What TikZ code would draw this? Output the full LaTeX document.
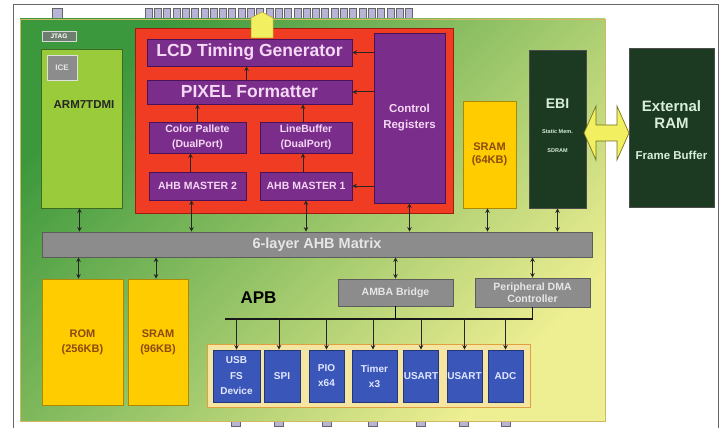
\documentclass[tikz,border=0pt]{standalone}
\usepackage{fontspec}
\setmainfont{Liberation Sans}
\usetikzlibrary{arrows.meta}
\definecolor{purpF}{HTML}{7B2D8C}
\definecolor{purpD}{HTML}{4A1258}
\definecolor{purpT}{HTML}{F4D8F4}
\definecolor{redF}{HTML}{F03C22}
\definecolor{redD}{HTML}{A01C10}
\definecolor{yelF}{HTML}{FFCC00}
\definecolor{yelD}{HTML}{B08800}
\definecolor{yelT}{HTML}{8A4A10}
\definecolor{armF}{HTML}{9ACB3A}
\definecolor{armD}{HTML}{3D6B22}
\definecolor{grayF}{HTML}{8C8C8C}
\definecolor{grayD}{HTML}{5C5C5C}
\definecolor{grayT}{HTML}{E6E6E6}
\definecolor{dgF}{HTML}{1C3A22}
\definecolor{dgT}{HTML}{D8EED8}
\definecolor{bluF}{HTML}{3A56B8}
\definecolor{bluD}{HTML}{24357A}
\definecolor{bluT}{HTML}{E2E8FF}
\definecolor{contF}{HTML}{F4E6A0}
\definecolor{contD}{HTML}{E0A040}
\definecolor{pinF}{HTML}{B8B4D8}
\definecolor{bodyA}{HTML}{3C983C}
\definecolor{bodyB}{HTML}{A8CA4A}
\definecolor{bodyC}{HTML}{EEEE92}
\definecolor{arrY}{HTML}{F2F060}
\definecolor{arrD}{HTML}{707020}
\definecolor{jtagF}{HTML}{6E7E6E}
\newcommand\fsz[2]{\fontsize{#1}{#2}\selectfont}
\tikzset{
  blk/.style={draw, line width=0.9pt, inner sep=0pt, align=center, font=\bfseries},
  purpbox/.style={blk, fill=purpF, draw=purpD, text=purpT},
  yelbox/.style={blk, fill=yelF, draw=yelD, text=yelT},
  graybox/.style={blk, fill=grayF, draw=grayD, text=grayT},
  dgbox/.style={blk, fill=dgF, draw=black!70, text=dgT},
  blubox/.style={blk, fill=bluF, draw=bluD, text=bluT},
  txt/.style={inner sep=0pt, align=center, font=\bfseries},
  arr/.style={-{Stealth[length=4.5pt,width=4.5pt]}, line width=1pt, draw=black!85},
  darr/.style={{Stealth[length=4.5pt,width=4.5pt]}-{Stealth[length=4.5pt,width=4.5pt]}, line width=1pt, draw=black!85},
  busline/.style={line width=1.8pt, draw=black!90},
  pin/.style={fill=pinF, draw=black!60, line width=0.5pt},
}
\begin{document}
\begin{tikzpicture}[x=1pt,y=-1pt]
\useasboundingbox (0,0) rectangle (724,428);
\fill[white] (0,0) rectangle (724,428);
\draw[black!60, line width=0.8pt] (13,428) -- (13,4) -- (718,4) -- (718,428);
% top pins
\draw[pin] (52,8) rectangle (62,19);
\foreach \i in {0,...,28} { \draw[pin] ({145+9.3*\i},8) rectangle ++(7,11); }
% bottom pins
\foreach \x in {236,279,327,373,421,464,506} { \draw[pin] ({\x-4.5},415) rectangle ++(9,11); }
% chip body
\shade[top color=bodyA, middle color=bodyB, bottom color=bodyC, shading angle=45] (20,19) rectangle (605,421);
\draw[yelD!60, line width=0.6pt] (20,19) rectangle (605,421);
% JTAG, ARM
\node[blk, fill=jtagF, draw=white!70!gray, text=white, minimum width=34pt, minimum height=10pt, font=\bfseries\fsz{6.5}{7}] (jtag) at (59,36) {JTAG};
\node[blk, fill=armF, draw=armD, minimum width=81pt, minimum height=159pt] (arm) at (81.5,128.5) {};
\node[txt, text=black!85, font=\bfseries\fsz{11.5}{12}] (armt) at (84,105) {ARM7TDMI};
\node[blk, fill=grayF, draw=white!75!gray, text=grayT, minimum width=30pt, minimum height=25pt, font=\bfseries\fsz{8}{9}] (ice) at (62,67.5) {ICE};
% LCD controller block
\node[blk, fill=redF, draw=redD, minimum width=318pt, minimum height=185pt] (lcd) at (294,120.5) {};
\fill[arrY, draw=yelD!80, line width=0.5pt] (251,38) -- (251,18) -- (262,12) -- (273,18) -- (273,38) -- cycle;
\node[purpbox, minimum width=205pt, minimum height=27pt, font=\bfseries\fsz{17.5}{18}] (lcdt) at (249.5,52.5) {LCD Timing Generator};
\node[purpbox, minimum width=205pt, minimum height=24pt, font=\bfseries\fsz{17.5}{18}] (pix) at (249.5,92) {PIXEL Formatter};
\node[purpbox, minimum width=97pt, minimum height=31pt, font=\bfseries\fsz{10.5}{14.5}] (cp) at (197.5,137.5) {Color Pallete\\(DualPort)};
\node[purpbox, minimum width=92pt, minimum height=31pt, font=\bfseries\fsz{10.5}{14.5}] (lb) at (306,137.5) {LineBuffer\\(DualPort)};
\node[purpbox, minimum width=97pt, minimum height=28pt, font=\bfseries\fsz{10.5}{12}] (m2) at (197.5,186) {AHB MASTER 2};
\node[purpbox, minimum width=92pt, minimum height=28pt, font=\bfseries\fsz{10.5}{12}] (m1) at (306,186) {AHB MASTER 1};
\node[purpbox, minimum width=71pt, minimum height=170pt, font=\bfseries\fsz{11.5}{16}] (ctrl) at (409.5,118) {Control\\Registers};
% memories and EBI
\node[yelbox, minimum width=53pt, minimum height=107pt, font=\bfseries\fsz{11}{13}] (sram64) at (489.5,154.5) {SRAM\\(64KB)};
\node[dgbox, minimum width=57pt, minimum height=158pt] (ebi) at (557.5,129) {};
\node[txt, text=dgT, font=\bfseries\fsz{14}{15}] (ebit) at (557.5,104) {EBI};
\node[txt, text=dgT, font=\bfseries\fsz{5.5}{6}] (ebis) at (557.5,132) {Static Mem.};
\node[txt, text=dgT, font=\bfseries\fsz{5.5}{6}] (ebid) at (557.5,151) {SDRAM};
\node[dgbox, minimum width=85pt, minimum height=159pt] (ext) at (671.5,127.5) {};
\node[txt, text=dgT, font=\bfseries\fsz{15}{17}] (extt) at (671.5,114.5) {External\\RAM};
\node[txt, text=dgT, font=\bfseries\fsz{11.5}{12}] (extf) at (671.5,155) {Frame Buffer};
\fill[arrY, draw=arrD, line width=0.7pt] (584,133) -- (596,106) -- (596,125) -- (617,125) -- (617,106) -- (629,133) -- (617,160) -- (617,141) -- (596,141) -- (596,160) -- cycle;
% AHB matrix
\node[graybox, minimum width=550pt, minimum height=25pt, font=\bfseries\fsz{14.5}{15}] (mtx) at (317,244.5) {6-layer AHB Matrix};
\node[yelbox, minimum width=81pt, minimum height=126pt, font=\bfseries\fsz{11}{15}] (rom) at (82.5,342) {ROM\\(256KB)};
\node[yelbox, minimum width=60pt, minimum height=126pt, font=\bfseries\fsz{11}{15}] (sram96) at (158,342) {SRAM\\(96KB)};
\node[txt, text=black, font=\bfseries\fsz{17}{18}] (apb) at (258.5,298) {APB};
\node[graybox, minimum width=115pt, minimum height=27pt, font=\bfseries\fsz{10.5}{12}] (amba) at (395.5,292.5) {AMBA Bridge};
\node[graybox, minimum width=115pt, minimum height=29pt, font=\bfseries\fsz{10.5}{11.5}] (dma) at (532.5,292.5) {Peripheral DMA\\Controller};
% peripherals
\node[blk, fill=contF, draw=contD, minimum width=323pt, minimum height=63pt] (cont) at (368.5,375.5) {};
\node[blubox, minimum width=47pt, minimum height=52pt, font=\bfseries\fsz{10}{15.5}] (usb) at (236.5,376) {USB\\FS\\Device};
\node[blubox, minimum width=36pt, minimum height=52pt, font=\bfseries\fsz{10}{15}] (spi) at (282,376) {SPI};
\node[blubox, minimum width=35pt, minimum height=52pt, font=\bfseries\fsz{10}{15}] (pio) at (326.5,376) {PIO\\x64};
\node[blubox, minimum width=45pt, minimum height=52pt, font=\bfseries\fsz{10}{15}] (timer) at (374.5,376) {Timer\\x3};
\node[blubox, minimum width=34pt, minimum height=52pt, font=\bfseries\fsz{10}{15}] (us1) at (421,376) {USART};
\node[blubox, minimum width=35pt, minimum height=52pt, font=\bfseries\fsz{10}{15}] (us2) at (464.5,376) {USART};
\node[blubox, minimum width=35pt, minimum height=52pt, font=\bfseries\fsz{10}{15}] (adc) at (505.5,376) {ADC};
% connectors inside LCD block
\draw[arr] (cp.north) -- (cp.north |- pix.south);
\draw[arr] ([xshift=-3pt]lb.north) -- ([xshift=-3pt]lb.north |- pix.south);
\draw[arr] ([xshift=-3pt]pix.north) -- ([xshift=-3pt]pix.north |- lcdt.south);
\draw[arr] ([xshift=-7pt]m2.north) -- ([xshift=-7pt]m2.north |- cp.south);
\draw[arr] ([xshift=-3pt]m1.north) -- ([xshift=-3pt]m1.north |- lb.south);
\draw[arr] (ctrl.west |- lcdt.east) -- (lcdt.east);
\draw[arr] (ctrl.west |- pix.east) -- (pix.east);
\draw[arr] (ctrl.west |- m1.east) -- (m1.east);
% connectors to the AHB matrix
\draw[darr] ([xshift=-2pt]arm.south) -- ([xshift=-2pt]arm.south |- mtx.north);
\draw[darr] ([xshift=-6pt]m2.south) -- ([xshift=-6pt]m2.south |- mtx.north);
\draw[darr] (m1.south) -- (m1.south |- mtx.north);
\draw[darr] (ctrl.south) -- (ctrl.south |- mtx.north);
\draw[darr] ([xshift=-2pt]sram64.south) -- ([xshift=-2pt]sram64.south |- mtx.north);
\draw[darr] (ebi.south) -- (ebi.south |- mtx.north);
\draw[darr] ([xshift=-4pt]rom.north |- mtx.south) -- ([xshift=-4pt]rom.north);
\draw[darr] ([xshift=-2pt]sram96.north |- mtx.south) -- ([xshift=-2pt]sram96.north);
\draw[darr] (amba.north |- mtx.south) -- (amba.north);
\draw[darr] (dma.north |- mtx.south) -- (dma.north);
% APB bus
\coordinate (busL) at (225,319);
\draw[busline] (busL) -- (dma.south |- busL) -- (dma.south);
\draw[line width=1.5pt] (amba.south) -- (amba.south |- busL);
\foreach \p/\s in {usb/0,spi/-3,pio/0,timer/-1.5,us1/0,us2/0,adc/0} {
  \draw[arr] ([xshift=\s pt]\p.north |- busL) -- ([xshift=\s pt]\p.north);
}
\end{tikzpicture}
\end{document}
